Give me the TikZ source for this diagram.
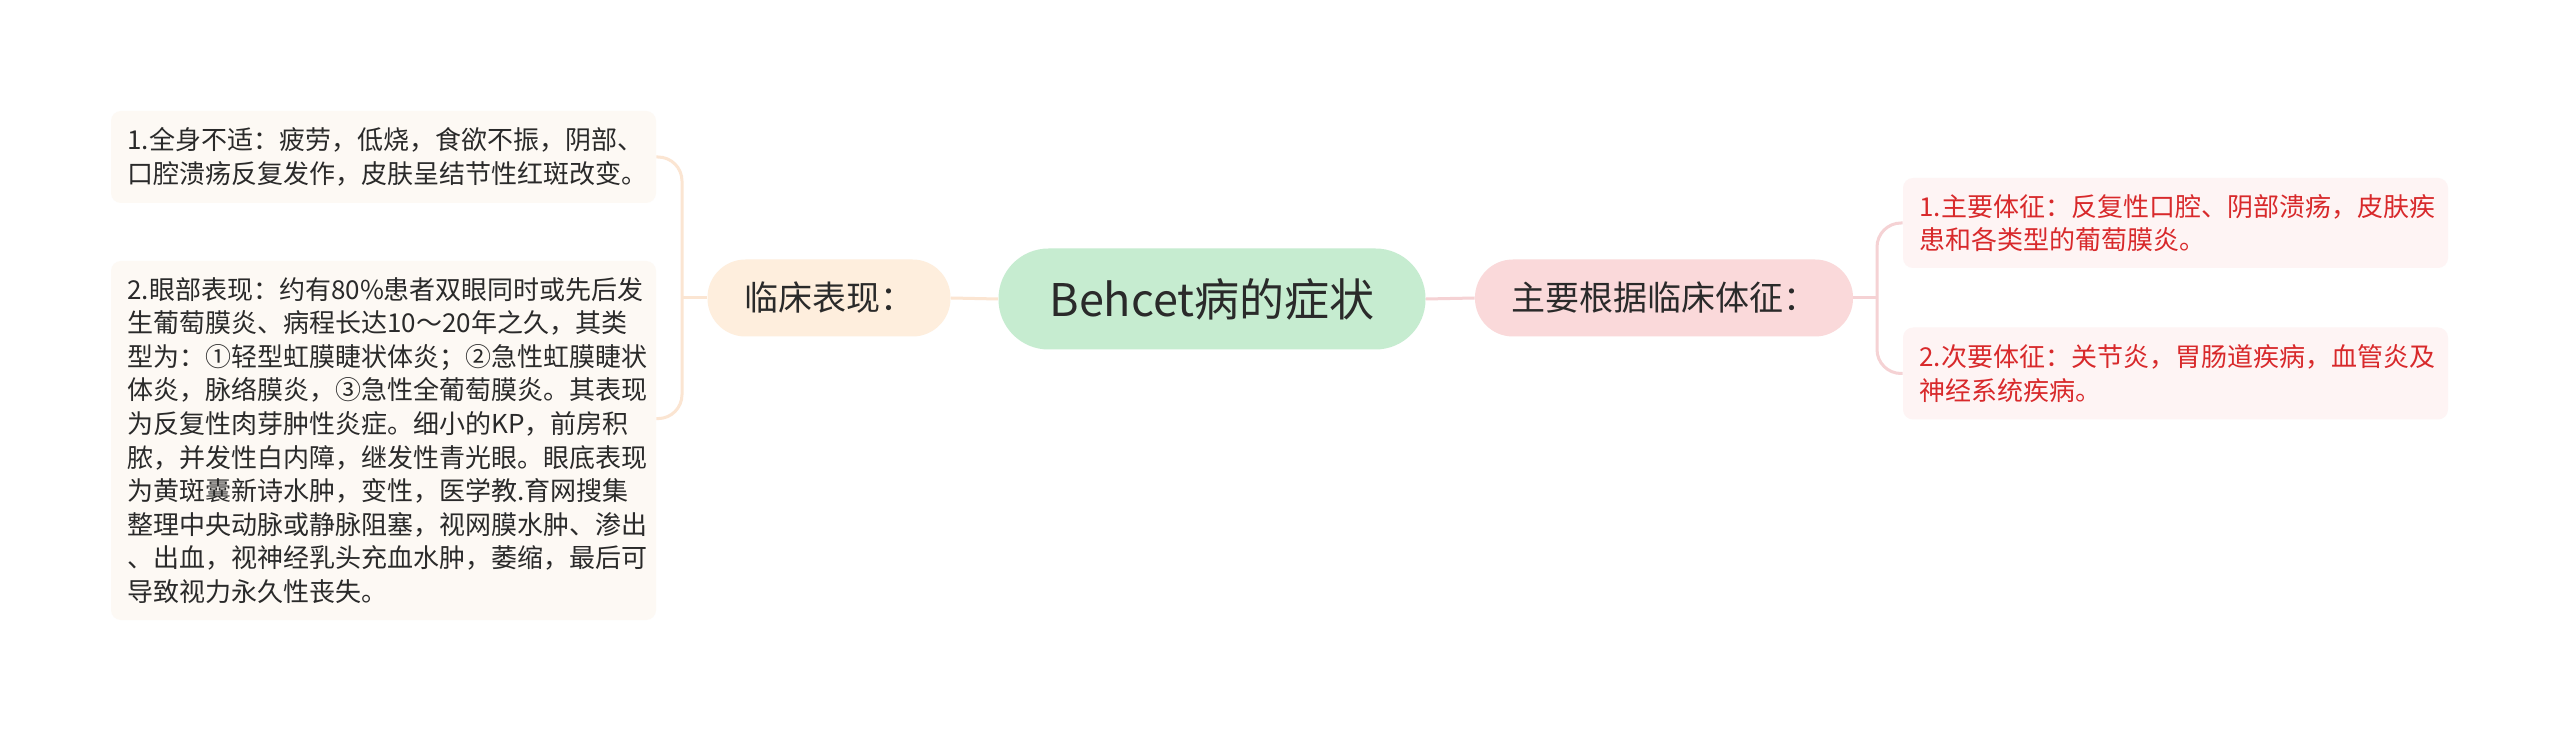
\documentclass[tikz,border=0pt]{standalone}
\usepackage{fontspec}
\setmainfont{Noto Sans CJK SC}
\usepackage{xcolor}
\usepackage{tikz}
\usetikzlibrary{positioning}
\definecolor{ink}{HTML}{2A2A2A}
\definecolor{grnL}{HTML}{C6ECD0}
\definecolor{peach}{HTML}{FEEEDD}
\definecolor{peachL}{HTML}{FDF9F4}
\definecolor{peachW}{HTML}{FBE5D2}
\definecolor{pink}{HTML}{FAD9DA}
\definecolor{pinkL}{HTML}{FEF4F4}
\definecolor{pinkW}{HTML}{F5D2D4}
\definecolor{rred}{HTML}{D8292B}
\tikzset{
  box/.style  ={align=center, inner sep=0pt, text=ink},
  root/.style ={box, fill=grnL, rounded corners=25pt, minimum width=213.5pt,
                minimum height=50.5pt, font=\fontsize{22.5}{28}\selectfont},
  mid/.style  ={box, rounded corners=19pt, minimum height=38.5pt,
                font=\fontsize{17}{20}\selectfont},
  leaf/.style ={box, align=left, rounded corners=5pt, text width=256pt,
                inner xsep=8.25pt, font=\fontsize{13}{16.8}\selectfont},
  lfL/.style  ={leaf, fill=peachL},
  lfR/.style  ={leaf, fill=pinkL, text=rred},
  link/.style ={line width=1.5pt, draw=#1},
}
\begin{document}
\begin{tikzpicture}[x=0.5pt, y=-0.5pt]
  \fill[white] (0,0) rectangle (2560,732);
  \useasboundingbox (0,0) rectangle (2560,732);
  \node[root](rt) at (1212,299){Behcet病的症状};
  \node[mid, fill=peach, minimum width=121.5pt](lc) at (829,298){临床表现：};
  \node[mid, fill=pink, minimum width=189pt](zy) at (1664,298){主要根据临床体征：};
  \node[lfL, minimum height=46pt](qs) at (383.5,157){1.全身不适：疲劳，低烧，食欲不振，阴部、\\口腔溃疡反复发作，皮肤呈结节性红斑改变。};
  \node[lfL, minimum height=179.5pt](yb) at (383.5,440.5){2.眼部表现：约有80\%患者双眼同时或先后发\\生葡萄膜炎、病程长达10～20年之久，其类\\型为：①轻型虹膜睫状体炎；②急性虹膜睫状\\体炎，脉络膜炎，③急性全葡萄膜炎。其表现\\为反复性肉芽肿性炎症。细小的KP，前房积\\脓，并发性白内障，继发性青光眼。眼底表现\\为黄斑囊新诗水肿，变性，医学教.育网搜集\\整理中央动脉或静脉阻塞，视网膜水肿、渗出\\、出血，视神经乳头充血水肿，萎缩，最后可\\导致视力永久性丧失。};
  \node[lfR, minimum height=45pt](zt) at (2175.5,223){1.主要体征：反复性口腔、阴部溃疡，皮肤疾\\患和各类型的葡萄膜炎。};
  \node[lfR, minimum height=46pt](ct) at (2175.5,373.5){2.次要体征：关节炎，胃肠道疾病，血管炎及\\神经系统疾病。};
  % links
  \coordinate (lb) at (682,298);
  \coordinate (ybin) at ([yshift=-79pt]yb.north east);
  \coordinate (rb) at (1877,298);
  \draw[link=peachW] (rt.west) -- (lc.east);
  \draw[link=peachW] (lc.west) -- (lb);
  \draw[link=peachW, rounded corners=12pt] (qs.east) -| (lb) |- (ybin);
  \draw[link=pinkW] (rt.east) -- (zy.west);
  \draw[link=pinkW] (zy.east) -- (rb);
  \draw[link=pinkW, rounded corners=12pt] (zt.west) -| (rb) |- (ct.west);
\end{tikzpicture}
\end{document}
